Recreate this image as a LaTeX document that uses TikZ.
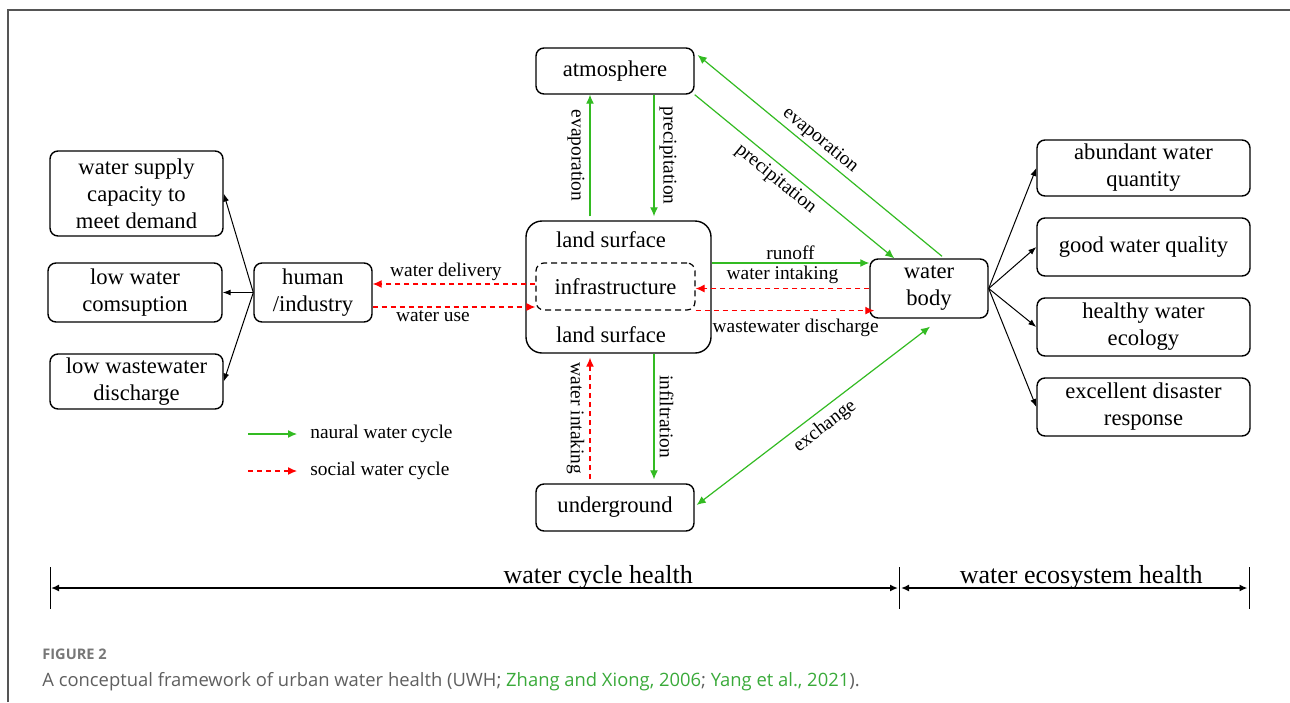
\documentclass[tikz,border=0pt]{standalone}
\usepackage{fontspec}
\setmainfont{Liberation Serif}
\newfontfamily\diagfont{Liberation Serif}
\newfontfamily\capfont{Open Sans}
\usetikzlibrary{arrows.meta,calc}
\definecolor{natgreen}{RGB}{51,187,34}
\definecolor{capgray}{RGB}{95,95,95}
\definecolor{citegreen}{RGB}{58,170,58}
\definecolor{framegray}{RGB}{85,85,85}

\begin{document}
\begin{tikzpicture}[
  x={(0.5pt,0)}, y={(0,-0.5pt)},
  font=\diagfont\fontsize{11.3}{13.5}\selectfont,
  >={Latex[length=4.5pt,width=4pt]},
  box/.style={draw, line width=0.7pt, rounded corners=4pt, align=center, inner sep=1pt},
  nat/.style={draw=natgreen, line width=0.6pt},
  soc/.style={draw=red, line width=0.6pt, dash pattern=on 2.5pt off 2pt},
  goal/.style={draw=black, line width=0.5pt, -{Latex[length=4pt,width=3pt]}},
  lbl/.style={inner sep=1.5pt, text=black, font=\diagfont\fontsize{9.7}{11}\selectfont},
  vlbl/.style={lbl, rotate=-90, inner sep=2.5pt},
  axis/.style={draw=black, line width=1pt, {Latex[length=4pt,width=3.5pt]}-{Latex[length=4pt,width=3.5pt]}},
  tick/.style={draw=black, line width=0.5pt}
]
\useasboundingbox (0,0) rectangle (1290,702);

% frame
\draw[framegray, line width=0.8pt] (8,702) -- (8,10) -- (1290,10);

% ====================== WATER CYCLE ======================
\node[box, minimum width=79pt, minimum height=23pt] (atm) at (615,71) {atmosphere};
\node[box, rounded corners=8pt, minimum width=92.5pt, minimum height=66pt] (land) at (618.5,287) {};
\node[box, line width=0.6pt, dash pattern=on 3pt off 2pt, minimum width=79.5pt, minimum height=23.5pt]
  (infra) at (615.5,286.5) {infrastructure};
\node (landtop) at (611,240) {land surface};
\node (landbot) at (611,335) {land surface};
\node[box, minimum width=79pt, minimum height=23.5pt] (ug) at (615,507.5) {underground};
\node[box, minimum width=59pt, minimum height=29.5pt] (wb) at (929,288.5) {water\\body};
\node[box, minimum width=59pt, minimum height=29.5pt] (hum) at (313,292.5) {human\\/industry};

% ====================== HUMAN GOALS ======================
\node[box, minimum width=86.5pt, minimum height=42.5pt] (sup) at (136.5,193.5)
  {water supply\\capacity to\\meet demand};
\node[box, minimum width=87pt, minimum height=29.5pt] (lowc) at (135,292.5) {low water\\comsuption};
\node[box, minimum width=86.5pt, minimum height=27.5pt] (loww) at (136.5,381.5) {low wastewater\\discharge};

% ====================== ECOSYSTEM GOALS ======================
\node[box, minimum width=106.5pt, minimum height=28pt] (abund) at (1143.5,168) {abundant water\\quantity};
\node[box, minimum width=106.5pt, minimum height=29pt] (qual) at (1143.5,247) {good water quality};
\node[box, minimum width=106.5pt, minimum height=29pt] (eco) at (1143.5,327) {healthy water\\ecology};
\node[box, minimum width=106.5pt, minimum height=29pt] (dis) at (1143.5,407) {excellent disaster\\response};

% natural water cycle
\draw[nat, ->] ($(land.north)+(-28.5,-4)$) -- ($(atm.south)+(-25,0)$)
  node[vlbl, midway, anchor=north] {evaporation};
\draw[nat, ->] ($(atm.south)+(39,0)$) -- ($(land.north)+(35.5,-4)$)
  node[vlbl, midway, anchor=south] {precipitation};
\draw[nat, ->] (atm.south east) -- ($(wb.north west)+(25,0)$)
  node[lbl, pos=0.45, below=1pt, sloped] {precipitation};
\draw[nat, <-] ($(atm.east)+(3,-16)$) -- ($(wb.north)+(13,-2)$)
  node[lbl, pos=0.47, above, sloped] {evaporation};
\draw[nat, ->] ($(land.east)+(0,-24)$) -- ($(wb.west)+(0,-25.5)$)
  node[lbl, midway, above] {runoff};
\draw[nat, ->] ($(land.south)+(35.5,0)$) -- ($(ug.north)+(39,-4)$)
  node[vlbl, midway, anchor=south] {infiltration};
\draw[nat, <->] ($(ug.east)+(2,-2.5)$) -- ($(wb.south)+(1,8)$)
  node[lbl, pos=0.51, below=1.5pt, sloped] {exchange};

% social water cycle
\draw[soc, ->] (wb.west) -- (infra.east |- wb.west)
  node[lbl, midway, above=0.5pt] {water intaking};
\draw[soc, ->] (infra.south east) -- ($(wb.west |- infra.south east)+(5,0)$)
  node[lbl, pos=0.56, below=2.5pt] {wastewater discharge};
\draw[soc, ->] ($(infra.west)+(0,-2.5)$) -- ($(hum.east)+(0,-8.5)$)
  node[lbl, pos=0.55, above] {water delivery};
\draw[soc, ->] ($(hum.east)+(0,14.5)$) -- ($(infra.west)+(0,20.5)$)
  node[lbl, pos=0.37, below] {water use};
\draw[soc, ->] ($(ug.north)+(-25,-4)$) -- ($(land.south)+(-28.5,4)$)
  node[vlbl, midway, anchor=north] {water intaking};

% goals
\draw[goal] (hum.west) -- (sup.east);
\draw[goal] (hum.west) -- (lowc.east);
\draw[goal] (hum.west) -- (loww.east);
\draw[goal] (wb.east) -- (abund.west);
\draw[goal] (wb.east) -- (qual.west);
\draw[goal] (wb.east) -- (eco.west);
\draw[goal] (wb.east) -- (dis.west);

% ====================== LEGEND ======================
\node[lbl, anchor=west] (legnat) at (307,434) {naural water cycle};
\node[lbl, anchor=west] (legsoc) at (307,471) {social water cycle};
\coordinate (keynat) at (248,434);
\coordinate (keysoc) at (248,471);
\draw[nat, ->] (keynat) -- ($(legnat.west)+(-10,0)$);
\draw[soc, ->] (keysoc) -- ($(legsoc.west)+(-10,0)$);

% ====================== HEALTH AXIS ======================
\coordinate (axl) at (50,588);
\coordinate (axm) at (899.5,588);
\coordinate (axr) at (1249,588);
\draw[tick] ($(axl)+(0,-21)$) -- ($(axl)+(0,21)$);
\draw[tick] ($(axm)+(0,-21)$) -- ($(axm)+(0,21)$);
\draw[tick] ($(axr)+(0,-21)$) -- ($(axr)+(0,21)$);
\draw[axis] ($(axl)+(1,0)$) -- ($(axm)+(-1.5,0)$)
  node[pos=0.646, above, inner sep=0pt, yshift=-1pt, font=\diagfont\fontsize{13}{15}\selectfont] {water cycle health};
\draw[axis] ($(axm)+(1.5,0)$) -- ($(axr)+(-1.5,0)$)
  node[pos=0.52, above, inner sep=0pt, yshift=-1pt, font=\diagfont\fontsize{13}{15}\selectfont] {water ecosystem health};

% ====================== CAPTION ======================
\node[anchor=west, inner sep=0pt, text=capgray!85!white, font=\capfont\bfseries\fontsize{7.3}{8}\selectfont]
  (fignum) at (42,654) {FIGURE 2};
\node[anchor=west, inner sep=0pt, text=capgray, font=\capfont\fontsize{9.2}{11}\selectfont]
  (caption) at (42,682) {A conceptual framework of urban water health (UWH; \textcolor{citegreen}{Zhang and Xiong, 2006}; \textcolor{citegreen}{Yang et al., 2021}).};

\end{tikzpicture}
\end{document}
